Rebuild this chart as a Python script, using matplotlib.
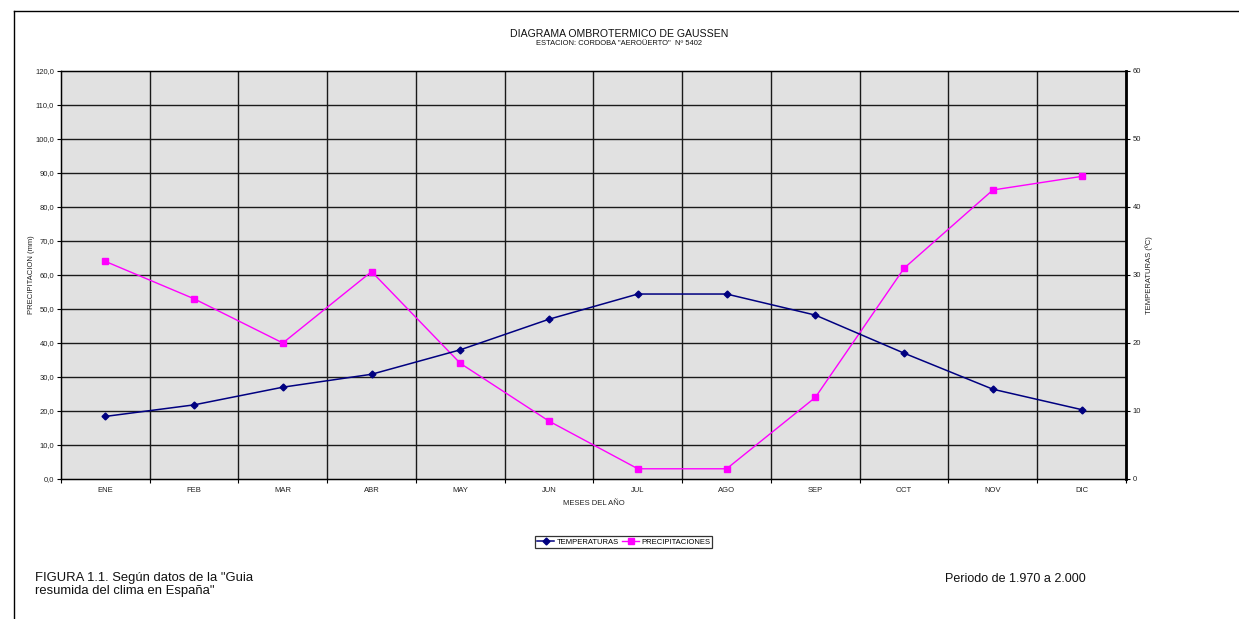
import numpy as np
import matplotlib
matplotlib.use("Agg")
import matplotlib.pyplot as plt
from matplotlib.lines import Line2D

plt.rcParams['font.family'] = ['Liberation Sans', 'DejaVu Sans']

# monthly data, Cordoba station 5402
meses = ['ENE', 'FEB', 'MAR', 'ABR', 'MAY', 'JUN', 'JUL', 'AGO', 'SEP', 'OCT', 'NOV', 'DIC']
precipitaciones = [64, 53, 40, 61, 34, 17, 3, 3, 24, 62, 85, 89]  # mm
temperaturas = [9.2, 10.9, 13.5, 15.4, 19.0, 23.5, 27.2, 27.2, 24.1, 18.5, 13.2, 10.2]  # C

prec_ticks = np.arange(0, 121, 10)
temp_ticks = np.arange(0, 61, 10)

fig = plt.figure(figsize=(12.39, 6.19), dpi=100)
ax = fig.add_axes([0.0492, 0.2262, 0.8596, 0.6591])
ax.set_facecolor('#e1e1e1')

x = np.arange(len(meses)) + 0.5
ax.set_xlim(0, 12)
ax.set_ylim(0, 120)

# grid: horizontal every 10 mm, vertical between months
for v in prec_ticks[1:-1]:
    ax.axhline(v, color='#1a1a1a', lw=1.0, zorder=1)
for b in range(1, 12):
    ax.axvline(b, color='#1a1a1a', lw=1.0, zorder=1)

ax.set_xticks(np.arange(0, 13))
ax.set_xticklabels([])
ax.set_xticks(x, minor=True)
ax.set_xticklabels(meses, minor=True)
ax.tick_params(axis='x', which='major', length=3, width=0.8, direction='out')
ax.tick_params(axis='x', which='minor', length=0, pad=6, labelsize=5.5, labelcolor='#222222')

ax.set_yticks(prec_ticks)
ax.set_yticklabels([f"{v:.1f}".replace('.', ',') for v in prec_ticks])
ax.tick_params(axis='y', length=3, width=0.8, labelsize=5.5, labelcolor='#222222', pad=2)

for s in ax.spines.values():
    s.set_color('black')
    s.set_linewidth(1.0)

ax.set_xlabel('MESES DEL AÑO', fontsize=5.5, color='#222222', labelpad=4)
ax.set_ylabel('PRECIPITACION (mm)', fontsize=5.5, color='#222222', labelpad=0)

ax2 = ax.twinx()
ax2.set_ylim(0, 60)
ax2.set_yticks(temp_ticks)
ax2.set_yticklabels([str(v) for v in temp_ticks])
ax2.tick_params(axis='y', length=3, width=0.8, labelsize=5.5, labelcolor='#222222', pad=2)
ax2.spines['right'].set_linewidth(2.0)
ax2.spines['right'].set_color('black')
ax2.set_ylabel('TEMPERATURAS (ºC)', fontsize=5.5, color='#222222', labelpad=3)

ax2.plot(x, temperaturas, color='#000080', lw=1.1, marker='D', ms=3.5,
         markerfacecolor='#000080', markeredgecolor='#000080', zorder=3)
ax.plot(x, precipitaciones, color='#ff00ff', lw=1.0, marker='s', ms=4.5,
        markerfacecolor='#ff00ff', markeredgecolor='#ff00ff', zorder=3)

fig.text(0.4998, 0.945, 'DIAGRAMA OMBROTERMICO DE GAUSSEN', ha='center', va='center',
         fontsize=7.6, color='#111111')
fig.text(0.4998, 0.929, 'ESTACION: CORDOBA "AEROÜERTO"  Nº 5402', ha='center', va='center',
         fontsize=5.4, color='#111111')

handles = [
    Line2D([], [], color='#000080', lw=1.1, marker='D', ms=3.5),
    Line2D([], [], color='#ff00ff', lw=1.0, marker='s', ms=4.5),
]
leg = fig.legend(handles, ['TEMPERATURAS', 'PRECIPITACIONES'], loc='center',
                 bbox_to_anchor=(0.5035, 0.1244), ncol=2, fontsize=5.5, frameon=True,
                 fancybox=False, borderpad=0.25, handlelength=2.2, handletextpad=0.3,
                 columnspacing=0.5, borderaxespad=0)
leg.get_frame().set_edgecolor('black')
leg.get_frame().set_linewidth(0.9)

fig.text(0.0283, 0.0555, 'FIGURA 1.1. Según datos de la "Guia\nresumida del clima en España"',
         ha='left', va='center', fontsize=9.4, color='#111111', linespacing=1.05)
fig.text(0.763, 0.064, 'Periodo de 1.970 a 2.000', ha='left', va='center',
         fontsize=9.0, color='#111111')

# outer frame lines (top and left)
fig.add_artist(Line2D([0.0109, 1.0], [0.9822, 0.9822], color='black', lw=1.0,
                      transform=fig.transFigure))
fig.add_artist(Line2D([0.0109, 0.0109], [0.0, 0.9822], color='black', lw=1.0,
                      transform=fig.transFigure))

fig.savefig('out.png', dpi=100)
